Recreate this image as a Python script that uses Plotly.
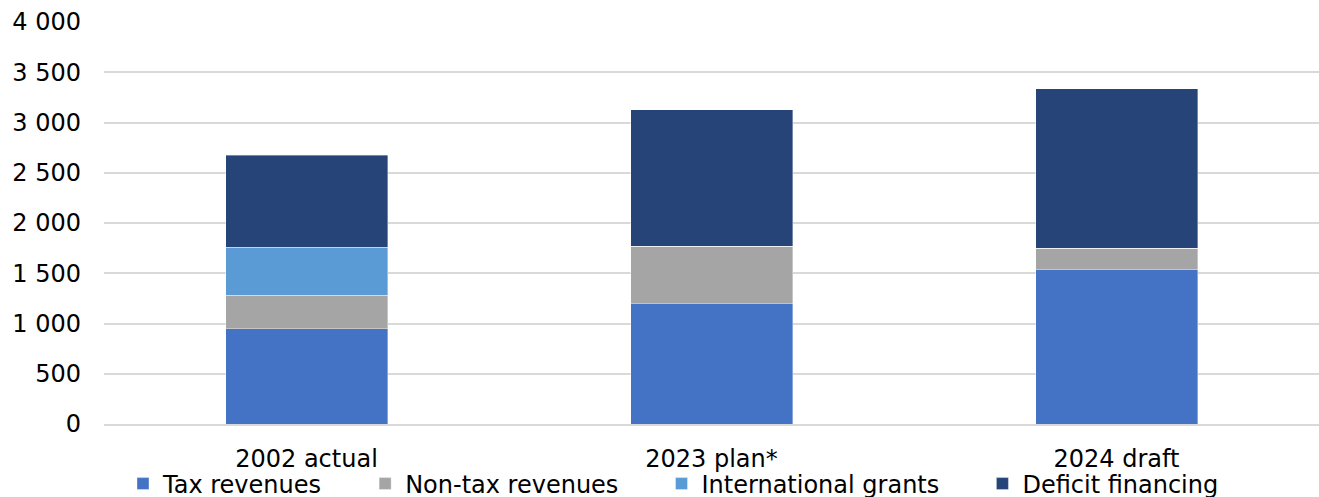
import plotly.graph_objects as go

categories = ["2002 actual", "2023 plan*", "2024 draft"]
tax_revenues = [950, 1200, 1537]
non_tax_revenues = [330, 570, 210]
international_grants = [480, 0, 0]
deficit_financing = [915, 1355, 1590]

series = [
    ("Tax revenues", tax_revenues, "#4472C4"),
    ("Non-tax revenues", non_tax_revenues, "#A5A5A5"),
    ("International grants", international_grants, "#5B9BD5"),
    ("Deficit financing", deficit_financing, "#264478"),
]

FONT = "Verdana, DejaVu Sans, sans-serif"
PAD = "\u00a0" * 5

fig = go.Figure()
for i, (name, vals, color) in enumerate(series):
    label = name + (PAD if i < len(series) - 1 else "")
    fig.add_trace(go.Bar(
        x=categories, y=vals, name=label,
        marker=dict(color=color, line=dict(color="rgba(255,255,255,0.6)", width=0.6)),
    ))

fig.update_layout(
    barmode="stack",
    bargap=0.6,
    width=1319, height=497,
    margin=dict(l=104, r=0, t=22, b=73, autoexpand=False),
    paper_bgcolor="white", plot_bgcolor="white",
    font=dict(family=FONT, size=24, color="#000000"),
    separators=". ",
    legend=dict(
        orientation="h", x=(123 - 104) / 1215, xanchor="left",
        y=-(484 - 424) / 402, yanchor="middle",
        font=dict(family=FONT, size=24), traceorder="normal",
        itemwidth=30, bgcolor="rgba(0,0,0,0)",
    ),
    showlegend=True,
)
fig.update_yaxes(
    range=[0, 4000], dtick=500, tickformat=",d", separatethousands=True,
    showgrid=True, gridcolor="#D9D9D9", gridwidth=1.5,
    zeroline=False, showline=False, ticks="", ticklabelstandoff=22,
    automargin=False,
)
fig.update_xaxes(
    showline=True, linecolor="#D9D9D9", linewidth=1.5, ticks="",
    range=[-0.5, 2.5], ticklabelstandoff=12, automargin=False,
)

fig.write_html("out.html")
